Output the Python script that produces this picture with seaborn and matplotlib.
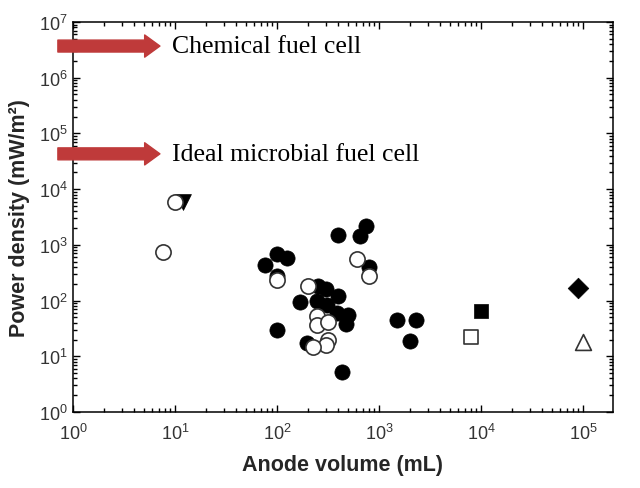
import numpy as np
import pandas as pd
import matplotlib
matplotlib.use("Agg")
import matplotlib.pyplot as plt
import seaborn as sns
from matplotlib.ticker import LogLocator, LogFormatterSciNotation, NullFormatter

# ---------------- data ----------------
filled_x = [76, 100, 125, 100, 100, 170, 255, 300, 245, 307, 400, 390, 500, 480,
            195, 430, 400, 650, 750, 800, 1500, 2300, 2000]
filled_y = [440, 680, 580, 280, 30, 95, 180, 160, 100, 85, 122, 60, 54, 38,
            17, 5.2, 1500, 1430, 2200, 400, 45, 45, 19]

open_x = [7.6, 10, 100, 200, 610, 800, 245, 245, 318, 315, 305, 225]
open_y = [750, 6000, 230, 185, 560, 280, 52, 36, 41, 20, 16, 14.5]

tri_down_x, tri_down_y = [12], [6000]
sq_filled_x, sq_filled_y = [10000], [66]
sq_open_x, sq_open_y = [8000], [22.5]
diamond_x, diamond_y = [90000], [170]
tri_open_x, tri_open_y = [100000], [18]

ref_labels = ["Chemical fuel cell", "Ideal microbial fuel cell"]
ref_levels = [3.7e6, 4.3e4]

x_label = "Anode volume (mL)"
y_label = "Power density (mW/m²)"

# ---------------- style ----------------
sns.set_style("ticks")
plt.rcParams["font.family"] = ["Liberation Sans", "DejaVu Sans"]
plt.rcParams["mathtext.fontset"] = "custom"
plt.rcParams["mathtext.rm"] = "Liberation Sans"
plt.rcParams["mathtext.it"] = "Liberation Sans:italic"
plt.rcParams["mathtext.bf"] = "Liberation Sans:bold"

fig = plt.figure(figsize=(6.4, 4.89), dpi=100)
ax = fig.add_axes([73 / 640, 1 - 413 / 489, 540 / 640, 390 / 489])

df_f = pd.DataFrame({"x": filled_x, "y": filled_y})
df_o = pd.DataFrame({"x": open_x, "y": open_y})

sns.scatterplot(data=df_f, x="x", y="y", ax=ax, marker="o", s=120,
                color="black", edgecolor="black", linewidth=0.5, zorder=3)
sns.scatterplot(data=df_o, x="x", y="y", ax=ax, marker="o", s=120,
                facecolor="white", edgecolor="#333333", linewidth=1.2, zorder=4)
sns.scatterplot(x=tri_down_x, y=tri_down_y, ax=ax, marker="v", s=130,
                color="black", edgecolor="black", linewidth=0.5, zorder=3)
sns.scatterplot(x=sq_filled_x, y=sq_filled_y, ax=ax, marker="s", s=110,
                color="black", edgecolor="black", linewidth=0.5, zorder=3)
sns.scatterplot(x=sq_open_x, y=sq_open_y, ax=ax, marker="s", s=100,
                facecolor="white", edgecolor="#333333", linewidth=1.2, zorder=4)
sns.scatterplot(x=diamond_x, y=diamond_y, ax=ax, marker="D", s=110,
                color="black", edgecolor="black", linewidth=0.5, zorder=3)
sns.scatterplot(x=tri_open_x, y=tri_open_y, ax=ax, marker="^", s=130,
                facecolor="white", edgecolor="#333333", linewidth=1.2, zorder=4)

ax.set_xscale("log")
ax.set_yscale("log")
ax.set_xlim(1, 1.97e5)
ax.set_ylim(1, 1e7)

ax.xaxis.set_major_locator(LogLocator(base=10, numticks=20))
ax.yaxis.set_major_locator(LogLocator(base=10, numticks=20))
ax.xaxis.set_minor_locator(LogLocator(base=10, subs=np.arange(2, 10), numticks=20))
ax.yaxis.set_minor_locator(LogLocator(base=10, subs=np.arange(2, 10), numticks=20))
ax.xaxis.set_major_formatter(LogFormatterSciNotation())
ax.yaxis.set_major_formatter(LogFormatterSciNotation())
ax.xaxis.set_minor_formatter(NullFormatter())
ax.yaxis.set_minor_formatter(NullFormatter())

ax.tick_params(which="both", direction="in", top=True, right=True,
               colors="black", labelcolor="#333333", width=1.0)
ax.tick_params(which="major", length=5, labelsize=13)
ax.tick_params(which="minor", length=3)
ax.tick_params(axis="x", which="major", pad=8)
ax.tick_params(axis="y", which="major", pad=4)
for sp in ax.spines.values():
    sp.set_linewidth(1.1)
    sp.set_color("black")

ax.set_xlabel(x_label, fontsize=15.5, fontweight="bold", labelpad=8)
ax.set_ylabel(y_label, fontsize=15.5, fontweight="bold", labelpad=6)

# reference arrows and labels
for lab, lev in zip(ref_labels, ref_levels):
    ax.annotate("", xy=(0.161, lev), xytext=(-0.028, lev),
                xycoords=("axes fraction", "data"),
                textcoords=("axes fraction", "data"),
                arrowprops=dict(arrowstyle="simple,tail_width=0.43,head_width=0.8,head_length=0.55",
                                mutation_scale=20, color="#bf3a3a",
                                shrinkA=0, shrinkB=0),
                annotation_clip=False, zorder=5)
    ax.text(0.183, lev, lab, transform=ax.get_yaxis_transform(),
            fontsize=18.5, family="Liberation Serif", va="center", ha="left",
            color="black")

fig.savefig("out.png", dpi=100)
